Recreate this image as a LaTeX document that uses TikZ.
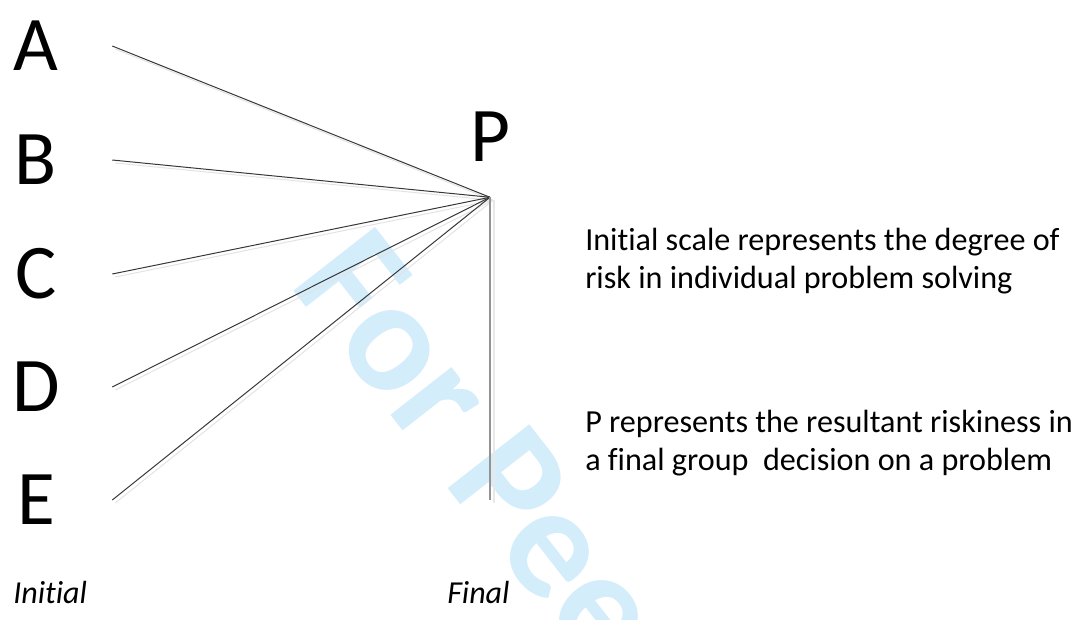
\documentclass[tikz,border=0pt]{standalone}
\usepackage{fontspec}
\setmainfont{Carlito}[Ligatures={NoCommon}]
\usetikzlibrary{positioning}
\definecolor{wmblue}{RGB}{212,237,250}
\definecolor{raygray}{RGB}{56,56,56}

\begin{document}
\begin{tikzpicture}[
    x=0.75pt, y=-0.75pt,
    letter/.style={
        font=\fontsize{58}{70}\selectfont,
        minimum width=114pt, inner sep=0pt
    },
    peak/.style={
        font=\fontsize{58}{70}\selectfont,
        minimum height=90pt, inner sep=0pt
    },
    note/.style={
        font=\fontsize{24.1}{28.3}\selectfont, align=left,
        anchor=base west, inner sep=0pt
    },
    axislabel/.style={font=\fontsize{24}{28.3}\selectfont\itshape,
        anchor=base west, inner sep=0pt},
    watermark/.style={font=\fontsize{120}{130}\selectfont\bfseries,
        text=wmblue, anchor=base west, inner sep=0pt},
    ray/.style={raygray, line width=0.75pt},
    raysh/.style={gray!22, line width=0.75pt},
    stem/.style={gray!85, line width=1.5pt},
    stemsh/.style={gray!18, line width=1pt}
]
    \useasboundingbox (0,0) rectangle (1082,619);
    \clip (0,0) rectangle (1082,619);

    % Watermark across the page
    \node[watermark, rotate=-52] (wm) at (288,284) {For Peer Review};

    % Initial positions
    \node[letter] (A) at (36,46) {A};
    \node[letter] (B) at (36,160) {B};
    \node[letter] (C) at (36,274) {C};
    \node[letter] (D) at (36,387) {D};
    \node[letter] (E) at (36,500) {E};

    % Final position
    \node[peak] (P) at (490,137) {P};
    \coordinate (base) at (490,500);

    % Shadows of the rays
    \draw[raysh] ([shift={(3,3)}]A.east) -- ([shift={(3,3)}]P.south);
    \draw[raysh] ([shift={(3,3)}]B.east) -- ([shift={(3,3)}]P.south);
    \draw[raysh] ([shift={(3,3)}]C.east) -- ([shift={(3,3)}]P.south);
    \draw[raysh] ([shift={(3,3)}]D.east) -- ([shift={(3,3)}]P.south);
    \draw[raysh] ([shift={(3,3)}]E.east) -- ([shift={(3,3)}]P.south);
    \draw[stemsh] ([shift={(4,3)}]P.south) -- ([shift={(4,3)}]base);

    % Rays to P
    \draw[ray] (A.east) -- (P.south);
    \draw[ray] (B.east) -- (P.south);
    \draw[ray] (C.east) -- (P.south);
    \draw[ray] (D.east) -- (P.south);
    \draw[ray] (E.east) -- (P.south);
    \draw[stem] (P.south) -- (base);

    % Scale labels
    \node[axislabel] (initial) at (13,603) {Initial};
    \node[axislabel] (final) at (447,603) {Final};

    % Explanations
    \node[note] (scale) at (585,288)
        {Initial scale represents the degree of\\risk in individual problem solving};
    \node[note] (result) at (585,470)
        {P represents the resultant riskiness in\\a final group \ decision on a problem};

\end{tikzpicture}
\end{document}
